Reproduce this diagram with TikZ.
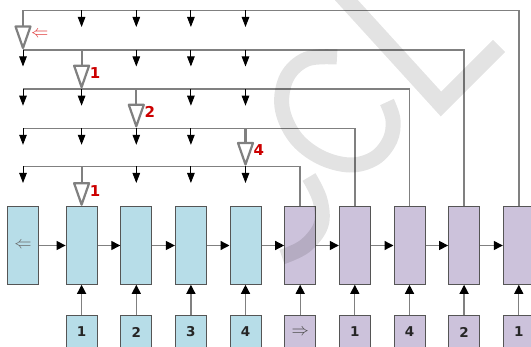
\documentclass[tikz,border=0pt]{standalone}
\usepackage{fontspec}
\newfontfamily\digitfont{DejaVu Sans}
\usetikzlibrary{arrows.meta}

\definecolor{encfill}{HTML}{B7DDE8}
\definecolor{decfill}{HTML}{CCC2DB}
\definecolor{edge}{HTML}{555555}
\definecolor{wire}{HTML}{808080}
\definecolor{lblred}{HTML}{CC0000}
\definecolor{arrred}{HTML}{E03C3C}

% hollow feedback arrow: stem + open triangle, ending at y = #3
\newcommand\hollowdrop[4]{%
  \draw[hollow] (#1,#2) -- (#1,#3-23.5);
  \draw[hollow] (#1-7.5,#3-23.5) -- (#1+7.5,#3-23.5) -- (#1,#3-2) -- cycle;
  \node[redlbl, anchor=west] at (#1+8,#3-16) {#4};
}

\begin{document}
\begin{tikzpicture}[x=1pt,y=-1pt,
  enc/.style={draw=edge, line width=1pt, fill=encfill,
    minimum width=31pt, minimum height=77.6pt, inner sep=0pt},
  dec/.style={enc, fill=decfill},
  inbox/.style={draw=edge, line width=1pt, minimum width=31pt,
    minimum height=32pt, inner sep=0pt,
    font=\digitfont\bfseries\fontsize{13.5}{14}\selectfont, text=black!85},
  link/.style={draw=wire, line width=1.3pt,
    -{Triangle[length=9pt,width=9pt,color=black,fill=black]}},
  bus/.style={draw=wire, line width=1.5pt},
  drop/.style={draw=black, line width=0.9pt,
    -{Triangle[length=10pt,width=7.5pt]}},
  hollow/.style={draw=wire, line width=2.2pt, line join=round},
  redlbl/.style={text=lblred, inner sep=0pt,
    font=\digitfont\bfseries\fontsize{15}{15}\selectfont},
  glyph/.style={inner sep=0pt, font=\fontsize{18}{18}\selectfont},
]
\fill[white] (0,0) rectangle (531,347);
\useasboundingbox (0,0) rectangle (531,347);

% encoder column
\foreach \i/\x in {1/23,2/81.6,3/136.3,4/190.9,5/245.5}
  \node[enc] (b\i) at (\x,245.5) {};
% decoder column
\foreach \i/\x in {6/300.2,7/354.8,8/409.5,9/464.1,10/518.8}
  \node[dec] (b\i) at (\x,245.5) {};
\node[glyph, text=black!60] (g1) at (b1) {$\Leftarrow$};

% inputs
\foreach \i/\x/\t in {2/81.6/1,3/136.3/2,4/190.9/3,5/245.5/4}
  \node[inbox, fill=encfill] (in\i) at (\x,332) {\t};
\node[inbox, fill=decfill] (in6) at (300.2,332) {};
\node[glyph, text=black!70] (g6) at (in6) {$\Rightarrow$};
\foreach \i/\x/\t in {7/354.8/1,8/409.5/4,9/464.1/2,10/518.8/1}
  \node[inbox, fill=decfill] (in\i) at (\x,332) {\t};

% recurrent chain and input arrows
\foreach \a/\b in {1/2,2/3,3/4,4/5,5/6,6/7,7/8,8/9,9/10}
  \draw[link] (b\a.east) -- (b\b.west);
\foreach \i in {2,...,10}
  \draw[link] (in\i.north) -- (b\i.south);

% output buses fed back from the decoder
\coordinate (h1) at (23,10.5);
\coordinate (h2) at (23,50);
\coordinate (h3) at (23,89.2);
\coordinate (h4) at (23,128.3);
\coordinate (h5) at (23,166.5);
\draw[bus] (h1) -| (b10.north);
\draw[bus] (h2) -| (b9.north);
\draw[bus] (h3) -| (b8.north);
\draw[bus] (h4) -| (b7.north);
\draw[bus] (h5) -| (b6.north);

% attention drops from each bus
\foreach \x in {81.6,136.3,190.9,245.5} \draw[drop] (\x,10.5) -- ++(0,16.5);
\foreach \x in {23,136.3,190.9,245.5} \draw[drop] (\x,50) -- ++(0,16.5);
\foreach \x in {23,81.6,190.9,245.5} \draw[drop] (\x,89.2) -- ++(0,16.5);
\foreach \x in {23,81.6,136.3,190.9} \draw[drop] (\x,128.3) -- ++(0,16.5);
\foreach \x in {23,136.3,190.9,245.5} \draw[drop] (\x,166.5) -- ++(0,16.5);

% selected (pointer) drops
\hollowdrop{23}{10.5}{50}{}
\node[glyph, text=arrred, anchor=west] (r0) at (31,34) {$\Leftarrow$};
\hollowdrop{81.6}{50}{89.2}{1}
\hollowdrop{136.3}{89.2}{128.3}{2}
\hollowdrop{245.5}{128.3}{166.5}{4}
\hollowdrop{81.6}{166.5}{206.7}{1}

% faint lettering over the figure
\begin{scope}
  \clip (0,0) rectangle (531,347);
  \draw[black, opacity=0.11, line width=17pt, miter limit=4]
    (339,-8) -- (441,104) -- (499,46);
  \draw[black, opacity=0.11, line width=15pt]
    plot[smooth, tension=0.6] coordinates {(337,57) (307,59) (287,77) (282,107)
      (295,137) (320,157) (350,165) (375,158) (390,140) (393,120) (387,102)};
  \draw[black, opacity=0.11, line width=15pt]
    plot[smooth, tension=0.6] coordinates {(309,177) (320,200) (321,225)
      (305,246) (282,257)};
\end{scope}
\end{tikzpicture}
\end{document}
